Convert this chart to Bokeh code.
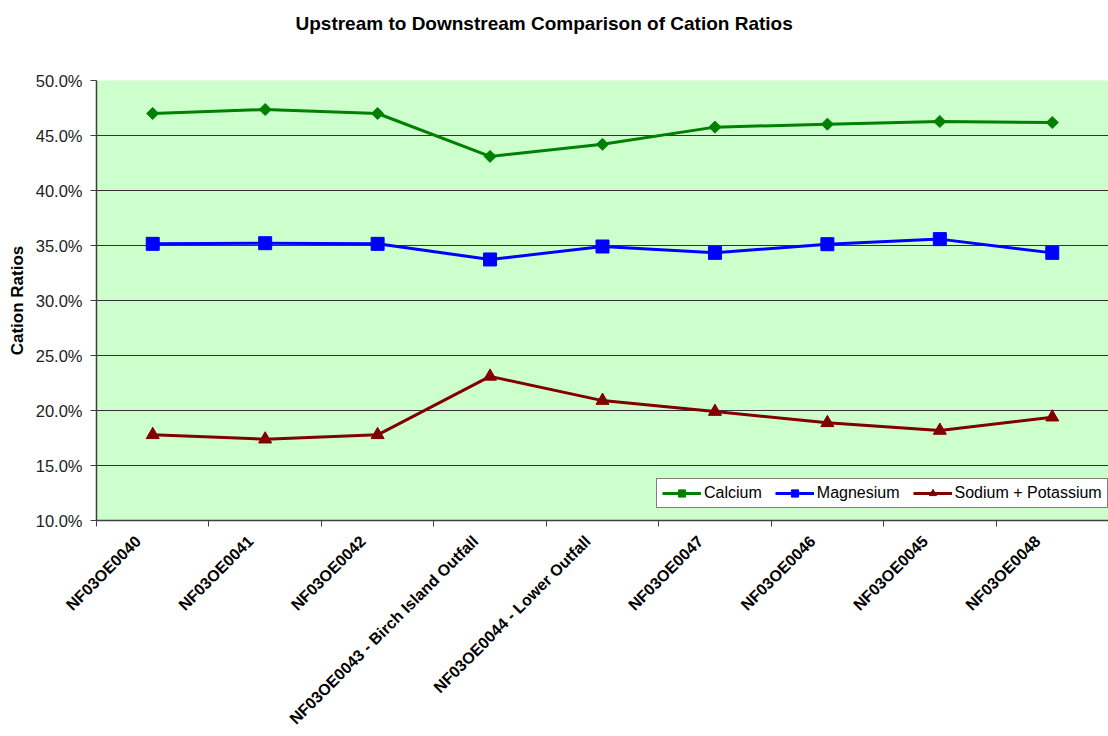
import math
from bokeh.plotting import figure
from bokeh.models import FixedTicker, PrintfTickFormatter, Range1d, Legend, LegendItem, Title
from bokeh.embed import file_html
from bokeh.resources import INLINE

title_text = "Upstream to Downstream Comparison of Cation Ratios"
sites = ["NF03OE0040", "NF03OE0041", "NF03OE0042", "NF03OE0043 - Birch Island Outfall",
         "NF03OE0044 - Lower Outfall", "NF03OE0047", "NF03OE0046", "NF03OE0045", "NF03OE0048"]
calcium = [47.0, 47.36, 47.0, 43.1, 44.2, 45.76, 46.03, 46.27, 46.18]
magnesium = [35.15, 35.21, 35.15, 33.73, 34.91, 34.33, 35.12, 35.58, 34.33]
sodium_potassium = [17.79, 17.39, 17.79, 23.1, 20.9, 19.9, 18.88, 18.18, 19.39]
y_ticks = [10, 15, 20, 25, 30, 35, 40, 45, 50]

xs = [i + 0.5 for i in range(len(sites))]
label_pos = [x - 0.13 for x in xs]

p = figure(width=1108, height=736, output_backend="svg", toolbar_location=None, title=None,
           x_range=Range1d(0, len(sites)), y_range=Range1d(10, 50),
           min_border_left=96, min_border_right=0, min_border_top=80, min_border_bottom=216)
p.background_fill_color = "#CCFFCC"
p.border_fill_color = "white"
p.outline_line_color = None

# spacer title (nearest the frame), then the real title above it
spacer = Title(text=" ", text_font_size="10px", standoff=25)
p.add_layout(spacer, "above")
main_title = Title(text=title_text, align="left", offset=199, standoff=18,
                   text_font="Liberation Sans", text_font_size="19px",
                   text_font_style="bold", text_color="black")
p.add_layout(main_title, "above")

# x axis
p.xaxis.ticker = FixedTicker(ticks=label_pos, minor_ticks=list(range(len(sites) + 1)))
p.xaxis.major_label_overrides = {x: s for x, s in zip(label_pos, sites)}
p.xaxis.major_label_orientation = math.pi / 4
p.xaxis.major_tick_out = 0
p.xaxis.major_tick_in = 0
p.xaxis.minor_tick_out = 6
p.xaxis.minor_tick_in = 0
p.xaxis.minor_tick_line_color = "#404040"
p.xaxis.axis_line_color = "#404040"
p.xaxis.axis_line_width = 1.5
p.xaxis.major_label_text_font = "Liberation Sans"
p.xaxis.major_label_text_font_style = "bold"
p.xaxis.major_label_text_font_size = "16px"
p.xaxis.major_label_text_color = "black"
p.xaxis.major_label_standoff = 12
p.xgrid.visible = False

# y axis
p.yaxis.ticker = FixedTicker(ticks=y_ticks)
p.yaxis.formatter = PrintfTickFormatter(format="%.1f%%")
p.yaxis.minor_tick_line_color = None
p.yaxis.major_tick_out = 6
p.yaxis.major_tick_in = 0
p.yaxis.major_tick_line_color = "#404040"
p.yaxis.axis_line_color = "#404040"
p.yaxis.axis_line_width = 1.5
p.yaxis.major_label_text_font = "Liberation Sans"
p.yaxis.major_label_text_font_size = "16.5px"
p.yaxis.major_label_text_color = "#222222"
p.yaxis.major_label_standoff = 8
p.yaxis.axis_label = "Cation Ratios"
p.yaxis.axis_label_text_font = "Liberation Sans"
p.yaxis.axis_label_text_font_style = "bold"
p.yaxis.axis_label_text_font_size = "17px"
p.yaxis.axis_label_text_color = "black"
p.yaxis.axis_label_standoff = 6
p.ygrid.grid_line_color = "#333333"
p.ygrid.grid_line_width = 1

series = [
    ("Calcium", calcium, "#008000", "square", 8.5, math.pi / 4),
    ("Magnesium", magnesium, "#0000FF", "square", 13, 0),
    ("Sodium + Potassium", sodium_potassium, "#800000", "triangle", 13, 0),
]
items = []
for name, vals, color, marker, size, ang in series:
    l = p.line(xs, vals, line_color=color, line_width=3)
    s = p.scatter(xs, vals, marker=marker, size=size, angle=ang,
                  fill_color=color, line_color=color)
    items.append(LegendItem(label=name, renderers=[l, s]))

legend = Legend(items=items, orientation="horizontal", location=(560, 12))
legend.label_text_font = "Liberation Sans"
legend.label_text_font_size = "16px"
legend.label_text_color = "black"
legend.border_line_color = "black"
legend.border_line_width = 1
legend.background_fill_color = "white"
legend.background_fill_alpha = 1
legend.glyph_width = 39
legend.glyph_height = 18
legend.label_height = 18
legend.label_standoff = 3
legend.spacing = 13
legend.padding = 5
legend.margin = 0
p.add_layout(legend, "center")

open("out.html", "w").write(file_html(p, INLINE))
